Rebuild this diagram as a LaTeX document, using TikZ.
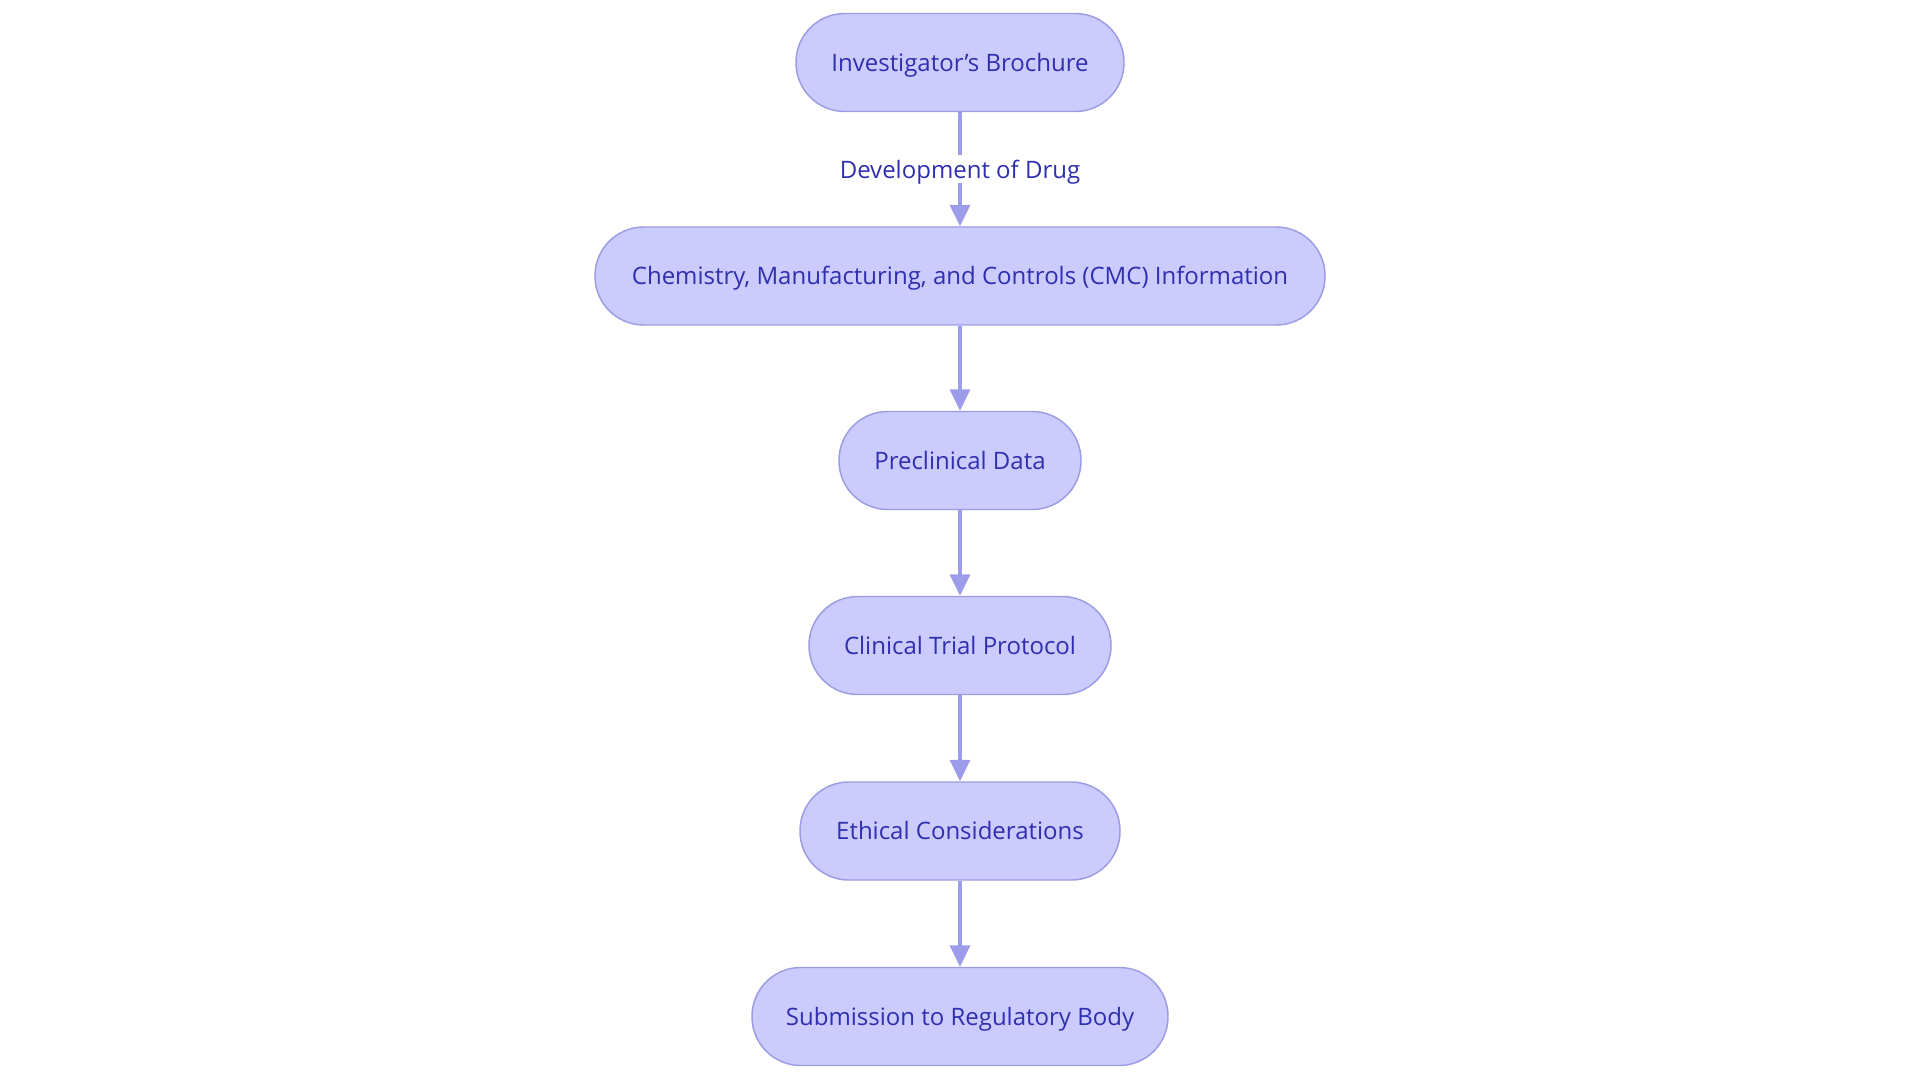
\documentclass[tikz,border=0pt]{standalone}
\usepackage{fontspec}
\setmainfont{Open Sans}
\usetikzlibrary{arrows.meta}
\definecolor{nodefill}{HTML}{CBCBFD}
\definecolor{nodeline}{HTML}{9C9CE2}
\definecolor{txt}{HTML}{2F2FAF}
\definecolor{arr}{HTML}{9C9CEA}
\tikzset{
  px/.style={x=0.75pt,y=-0.75pt},
  pill/.style={draw=nodeline, fill=nodefill, line width=1.1pt, rounded corners=36.5pt,
    minimum height=73.5pt, inner sep=0pt, text=txt, font=\fontsize{18}{21}\selectfont,
    text height=13.2pt, text depth=0pt},
  conn/.style={draw=arr, line width=2.3pt, -{Triangle[length=16pt,width=15pt]}},
  lbl/.style={fill=white, text=txt, font=\fontsize{18}{21}\selectfont, inner sep=4pt,
    text height=13.2pt, text depth=0pt}
}
\begin{document}
\begin{tikzpicture}[px]
\useasboundingbox (0,0) rectangle (1920,1080);
\node[pill, minimum width=246pt] (ib) at (960,62.5) {Investigator’s Brochure};
\node[pill, minimum width=547.5pt] (cmc) at (960,276) {Chemistry, Manufacturing, and Controls (CMC) Information};
\node[pill, minimum width=181.5pt] (pd) at (960,460.5) {Preclinical Data};
\node[pill, minimum width=226.5pt] (ctp) at (960,645.5) {Clinical Trial Protocol};
\node[pill, minimum width=240pt] (ec) at (960,831) {Ethical Considerations};
\node[pill, minimum width=312pt] (sub) at (960,1016.5) {Submission to Regulatory Body};
\draw[conn] (ib) -- node[lbl] {Development of Drug} (cmc);
\draw[conn] (cmc) -- (pd);
\draw[conn] (pd) -- (ctp);
\draw[conn] (ctp) -- (ec);
\draw[conn] (ec) -- (sub);
\end{tikzpicture}
\end{document}
